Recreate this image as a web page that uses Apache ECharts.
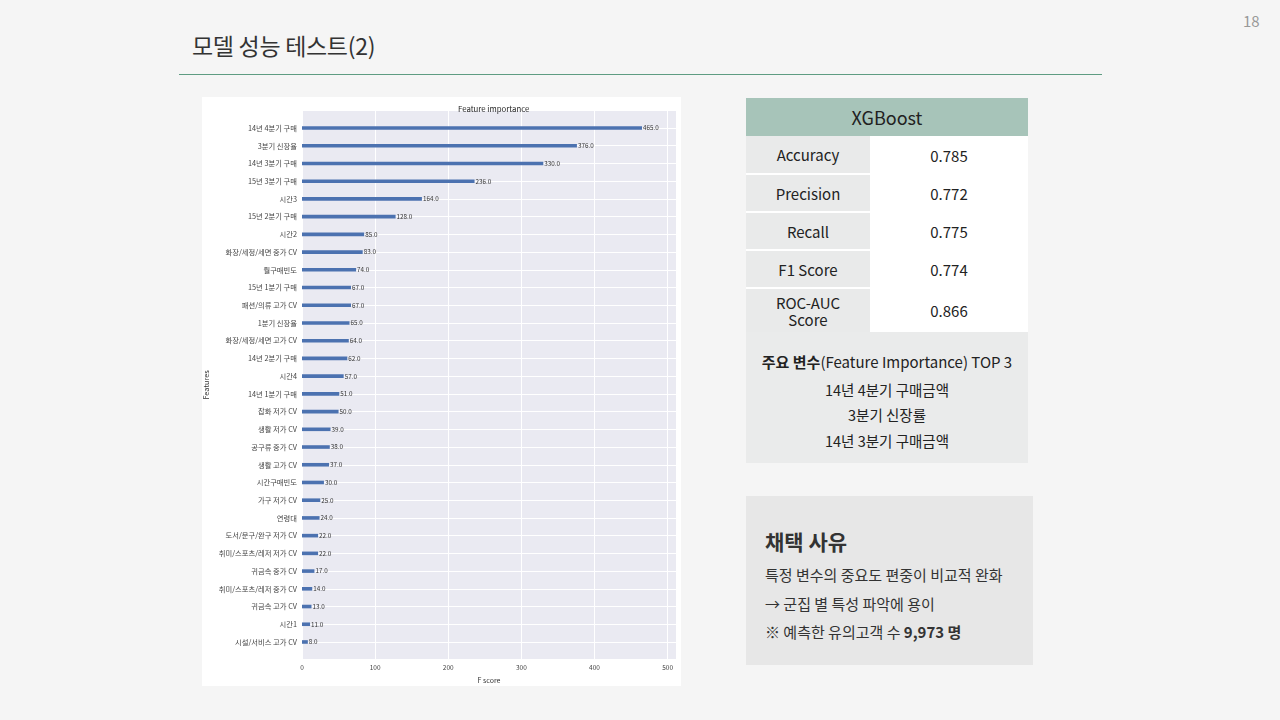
<!DOCTYPE html>
<html><head><meta charset="utf-8">
<script src="https://cdn.jsdelivr.net/npm/echarts@6/dist/echarts.min.js"></script>
<style>
html,body{margin:0;padding:0;}
body{width:1280px;height:720px;background:#f5f5f5;position:relative;overflow:hidden;font-family:"Noto Sans CJK KR","Noto Sans",sans-serif;color:#262626;}
.abs{position:absolute;}
#title{left:192px;top:28px;font-size:23px;color:#333;letter-spacing:-0.3px;}
#rule{left:179px;top:74px;width:923px;height:1px;background:#5e9c82;}
#page{left:1243px;top:10px;font-size:15px;color:#999;}
#chart{left:202px;top:97px;width:479px;height:589px;background:#fff;}
table.m{position:absolute;left:746px;top:98px;width:282px;border-collapse:collapse;}
table.m td{padding:0;text-align:center;font-size:15px;color:#222;}
table.m th{height:36px;background:#a7c4b9;font-weight:normal;font-size:18px;color:#222;}
table.m td.k{background:#e9eaea;width:124px;border-bottom:2px solid #fff;}
table.m td.v{background:#fff;}
#top3{left:746px;top:332px;width:282px;height:131px;background:#eaebeb;text-align:center;font-size:14.5px;color:#222;}
#reason{left:746px;top:496px;width:287px;height:169px;background:#e7e7e7;color:#333;}
</style></head>
<body>
<div class="abs" id="title">모델 성능 테스트(2)</div>
<div class="abs" id="rule"></div>
<div class="abs" id="page">18</div>
<div class="abs" id="chart"></div>

<table class="m">
<tr><th colspan="2">XGBoost</th></tr>
<tr style="height:38px"><td class="k">Accuracy</td><td class="v">0.785</td></tr>
<tr style="height:38px"><td class="k">Precision</td><td class="v">0.772</td></tr>
<tr style="height:38px"><td class="k">Recall</td><td class="v">0.775</td></tr>
<tr style="height:38px"><td class="k">F1 Score</td><td class="v">0.774</td></tr>
<tr style="height:44px"><td class="k" style="line-height:17px;border-bottom:none">ROC-AUC<br>Score</td><td class="v">0.866</td></tr>
</table>

<div class="abs" id="top3">
<div class="abs" style="left:0;width:282px;top:19px;font-size:15px;"><b>주요 변수</b>(Feature Importance) TOP 3</div>
<div class="abs" style="left:0;width:282px;top:47px;">14년 4분기 구매금액</div>
<div class="abs" style="left:0;width:282px;top:72px;">3분기 신장률</div>
<div class="abs" style="left:0;width:282px;top:98px;">14년 3분기 구매금액</div>
</div>

<div class="abs" id="reason">
<div class="abs" style="left:19px;top:30px;font-size:21px;font-weight:bold;">채택 사유</div>
<div class="abs" style="left:19px;top:68px;font-size:15px;">특정 변수의 중요도 편중이 비교적 완화</div>
<div class="abs" style="left:19px;top:97px;font-size:15px;">→ 군집 별 특성 파악에 용이</div>
<div class="abs" style="left:19px;top:125px;font-size:15px;">※ 예측한 유의고객 수 <b>9,973 명</b></div>
</div>

<script>
const categories = [
 '14년 4분기 구매','3분기 신장율','14년 3분기 구매','15년 3분기 구매','시간3',
 '15년 2분기 구매','시간2','화장/세정/세면 중가 CV','월구매빈도','15년 1분기 구매',
 '패션/의류 고가 CV','1분기 신장율','화장/세정/세면 고가 CV','14년 2분기 구매','시간4',
 '14년 1분기 구매','잡화 저가 CV','생활 저가 CV','공구류 중가 CV','생활 고가 CV',
 '시간구매빈도','가구 저가 CV','연령대','도서/문구/완구 저가 CV','취미/스포츠/레저 저가 CV',
 '귀금속 중가 CV','취미/스포츠/레저 중가 CV','귀금속 고가 CV','시간1','시설/서비스 고가 CV'
];
const fscores = [465,376,330,236,164,128,85,83,74,67,67,65,64,62,57,51,50,39,38,37,30,25,24,22,22,17,14,13,11,8];
const xTicks = [0,100,200,300,400,500];

const axisCats = [''].concat(categories, ['']);
const axisVals = [null].concat(fscores, [null]);
const xMax = Math.max(...fscores) * 1.1;
const font = '"Noto Sans CJK KR","Noto Sans",sans-serif';

const chart = echarts.init(document.getElementById('chart'));
chart.setOption({
  animation:false,
  backgroundColor:'#ffffff',
  textStyle:{fontFamily:font},
  title:{text:'Feature importance',left:251,top:3,
    textStyle:{fontSize:7.8,fontWeight:'normal',color:'#262626',fontFamily:font}},
  grid:{left:100,right:5,top:13.3,bottom:26.3,show:true,backgroundColor:'#eaeaf2',borderWidth:0,
    containLabel:false,outerBoundsMode:'none'},
  xAxis:{type:'value',min:0,max:xMax,interval:100,
    name:'F score',nameLocation:'middle',nameGap:17,nameMoveOverlap:false,
    nameTextStyle:{fontSize:7,color:'#333',fontFamily:font},
    axisLine:{show:false},axisTick:{show:false},
    axisLabel:{fontSize:6.5,color:'#444',margin:5,fontFamily:font,
      formatter:v=>xTicks.indexOf(v)>=0?String(v):''},
    splitLine:{show:true,lineStyle:{color:'#ffffff',width:1}}},
  yAxis:{type:'category',data:axisCats,inverse:true,boundaryGap:false,
    name:'Features',nameLocation:'middle',nameGap:92,nameRotate:90,nameMoveOverlap:false,
    nameTextStyle:{fontSize:7.3,color:'#333',fontFamily:font},
    axisLine:{show:false},axisTick:{show:false},
    axisLabel:{fontSize:7.3,color:'#444',margin:5,interval:0,fontFamily:font},
    splitLine:{show:true,interval:0,lineStyle:{color:'#ffffff',width:1}}},
  series:[{type:'bar',data:axisVals,barWidth:3.6,
    itemStyle:{color:'#4c72b0'},
    label:{show:true,position:'right',distance:1,fontSize:6.3,color:'#333',fontFamily:font,
      formatter:p=>p.value==null?'':Number(p.value).toFixed(1)}}]
});
</script>
</body></html>
